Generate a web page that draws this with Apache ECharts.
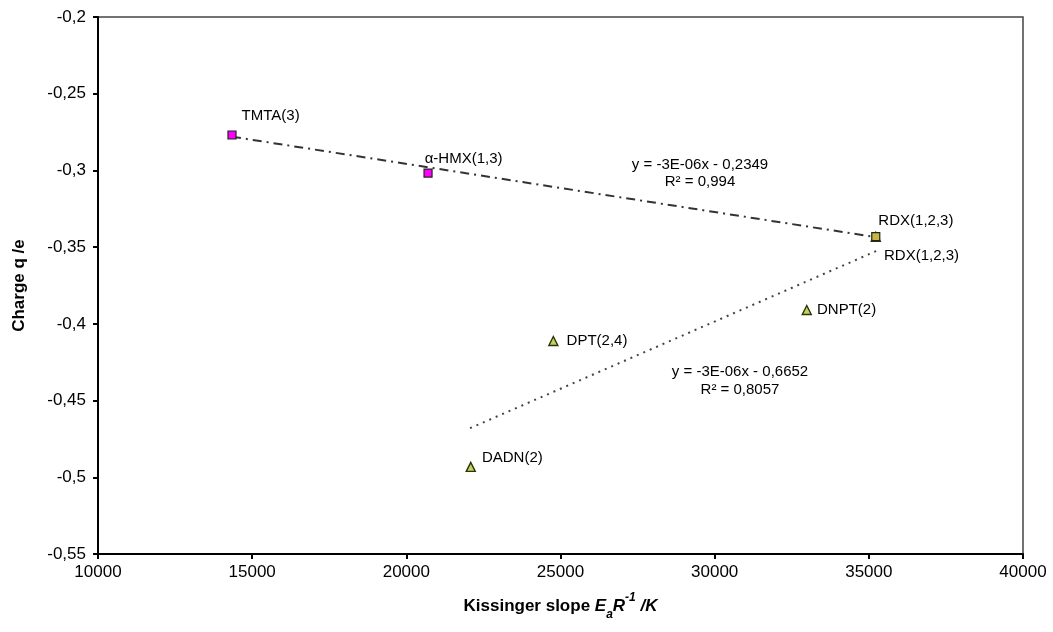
<!DOCTYPE html>
<html>
<head>
<meta charset="utf-8">
<script src="https://cdn.jsdelivr.net/npm/echarts@6/dist/echarts.min.js"></script>
<style>
  html, body { margin: 0; padding: 0; background: #fff; }
  #chart { width: 1053px; height: 632px; }
</style>
</head>
<body>
<div id="chart"></div>
<script>
// --- Data ---
const xTicks = [10000, 40000, 5000];          // min, max, interval
const yTicks = [-0.55, -0.2, 0.05];

const squareNames = ['TMTA(3)', 'α-HMX(1,3)', 'RDX(1,2,3)'];
const squareX = [14346, 20704, 35225];
const squareY = [-0.2769, -0.3017, -0.3432];

const triangleNames = ['DNPT(2)', 'DPT(2,4)', 'DADN(2)', 'RDX(1,2,3)'];
const triangleX = [32987, 24768, 22089, 35225];
const triangleY = [-0.391, -0.4112, -0.4932, -0.3432];

const trend1X = [14346, 35225];
const trend1Y = [-0.278, -0.3435];
const trend2X = [22066, 35268];
const trend2Y = [-0.468, -0.3523];

const eq1 = ['y = -3E-06x - 0,2349', 'R² = 0,994'];
const eq2 = ['y = -3E-06x - 0,6652', 'R² = 0,8057'];

const FONT = '"Liberation Sans", Arial, Helvetica, sans-serif';

// label offsets per point, [dx, dy] from the "right" position
const squareLabelOffset = [[0, -19], [-13, -14], [-7, -16]];
const triangleLabelOffset = [[0, 0], [3, 0], [1, -9], [-2, 19]];
const squareFill = ['#ff00ff', '#ff00ff', '#c8b840'];

const zip = (xs, ys) => xs.map((x, i) => [x, ys[i]]);
const fmtY = v => String(+v.toFixed(2)).replace('.', ',');
const fmtX = v => String(Math.round(v));

const pointLabel = (off) => ({
    show: true, position: 'right', distance: 5, offset: off,
    color: '#000', fontFamily: FONT, fontSize: 15,
});

const chart = echarts.init(document.getElementById('chart'), null, { renderer: 'canvas' });

chart.setOption({
    animation: false,
    backgroundColor: '#fff',
    grid: {
        left: 98, right: 30, top: 17, bottom: 78,
        show: true, borderColor: '#444', borderWidth: 1.5, backgroundColor: 'transparent',
    },
    xAxis: {
        type: 'value', min: xTicks[0], max: xTicks[1], interval: xTicks[2],
        axisLine: { show: true, onZero: false, lineStyle: { color: '#000', width: 2 } },
        axisTick: { show: true, inside: false, length: 5, lineStyle: { color: '#000', width: 2 } },
        axisLabel: { color: '#000', fontFamily: FONT, fontSize: 17, margin: 10, formatter: fmtX },
        splitLine: { show: false },
        name: '{t|Kissinger slope }{i|E}{sub|a}{i|R}{sup|-1}{i| /K}',
        nameLocation: 'middle', nameGap: 40,
        nameTextStyle: {
            rich: {
                t: { fontFamily: FONT, fontSize: 17, fontWeight: 'bold', color: '#000', lineHeight: 24 },
                i: { fontFamily: FONT, fontSize: 17, fontWeight: 'bold', fontStyle: 'italic', color: '#000', lineHeight: 24 },
                sub: { fontFamily: FONT, fontSize: 12, fontWeight: 'bold', fontStyle: 'italic', color: '#000', lineHeight: 24, verticalAlign: 'bottom', padding: [0, 0, -3, 0] },
                sup: { fontFamily: FONT, fontSize: 12, fontWeight: 'bold', fontStyle: 'italic', color: '#000', lineHeight: 24, verticalAlign: 'top', padding: [-2, 0, 0, 0] },
            },
        },
    },
    yAxis: {
        type: 'value', min: yTicks[0], max: yTicks[1], interval: yTicks[2],
        axisLine: { show: true, onZero: false, lineStyle: { color: '#000', width: 2 } },
        axisTick: { show: true, inside: false, length: 5, lineStyle: { color: '#000', width: 2 } },
        axisLabel: { color: '#000', fontFamily: FONT, fontSize: 17, margin: 12, formatter: fmtY },
        splitLine: { show: false },
        name: 'Charge q /e', nameLocation: 'middle', nameGap: 70, nameRotate: 90,
        nameTextStyle: { fontFamily: FONT, fontSize: 17, fontWeight: 'bold', color: '#000' },
    },
    series: [
        {
            name: 'trend1', type: 'line', data: zip(trend1X, trend1Y),
            showSymbol: false, silent: true, z: 1,
            lineStyle: { color: '#333', width: 2, type: [9, 5, 2, 5] },
        },
        {
            name: 'trend2', type: 'line', data: zip(trend2X, trend2Y),
            showSymbol: false, silent: true, z: 1,
            lineStyle: { color: '#444', width: 2, type: [2, 5] },
        },
        {
            name: 'triangles', type: 'scatter', symbol: 'triangle', symbolSize: 9, z: 2,
            itemStyle: { color: '#c4d060', borderColor: '#2e3408', borderWidth: 1.4, opacity: 1 },
            data: triangleX.map((x, i) => ({
                name: triangleNames[i], value: [x, triangleY[i]],
                label: Object.assign(pointLabel(triangleLabelOffset[i]), { formatter: triangleNames[i] }),
            })),
        },
        {
            name: 'squares', type: 'scatter', symbol: 'rect', symbolSize: 8, z: 3,
            itemStyle: { borderColor: '#222', borderWidth: 1.2, opacity: 1 },
            data: squareX.map((x, i) => ({
                name: squareNames[i], value: [x, squareY[i]],
                itemStyle: { color: squareFill[i], opacity: 1 },
                label: Object.assign(pointLabel(squareLabelOffset[i]), { formatter: squareNames[i] }),
            })),
        },
    ],
    graphic: [
        { type: 'text', x: 700, y: 165, style: { text: eq1[0], align: 'center', verticalAlign: 'middle', fontFamily: FONT, fontSize: 15, fill: '#000' } },
        { type: 'text', x: 700, y: 182, style: { text: eq1[1], align: 'center', verticalAlign: 'middle', fontFamily: FONT, fontSize: 15, fill: '#000' } },
        { type: 'text', x: 740, y: 372, style: { text: eq2[0], align: 'center', verticalAlign: 'middle', fontFamily: FONT, fontSize: 15, fill: '#000' } },
        { type: 'text', x: 740, y: 390, style: { text: eq2[1], align: 'center', verticalAlign: 'middle', fontFamily: FONT, fontSize: 15, fill: '#000' } },
    ],
});
</script>
</body>
</html>
